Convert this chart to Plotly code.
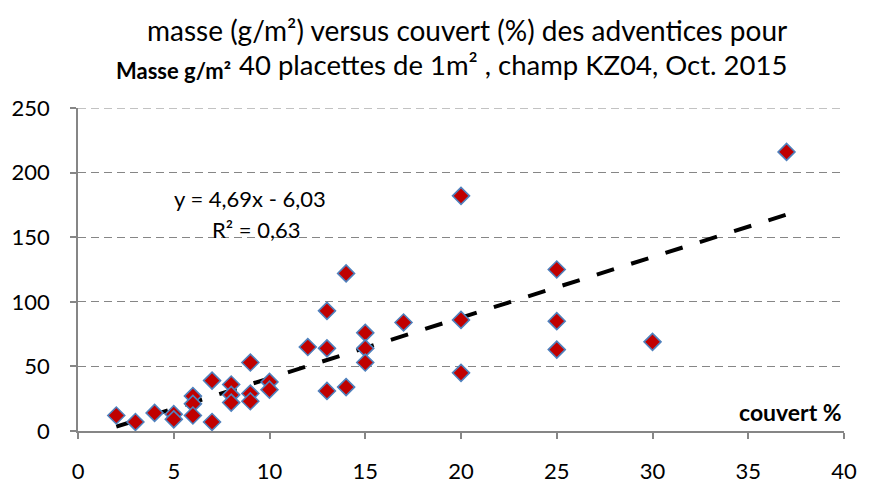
import plotly.graph_objects as go

# Weed cover (%) and weed mass (g/m²) per 1 m² plot, field KZ04, Oct. 2015
couvert = [2, 3, 4, 5, 5, 6, 6, 6, 7, 7, 8, 8, 8, 9, 9, 9, 10, 10,
           12, 13, 13, 13, 14, 14, 15, 15, 15, 17,
           20, 20, 20, 25, 25, 25, 30, 37]
masse = [12, 7, 14, 13, 9, 27, 21, 12, 39, 7, 36, 28, 22, 53, 29, 23, 38, 32,
         65, 93, 64, 31, 122, 34, 76, 64, 53, 84,
         182, 86, 45, 125, 85, 63, 69, 216]

# Linear trend reported on the chart
slope = 4.69
intercept = -6.03
r2 = 0.63

x_ticks = [0, 5, 10, 15, 20, 25, 30, 35, 40]
y_ticks = [0, 50, 100, 150, 200, 250]

FONT = "Lato"
GRID = "#868686"

trend_x = [min(couvert), max(couvert)]
trend_y = [slope * v + intercept for v in trend_x]

fig = go.Figure()
fig.add_trace(go.Scatter(
    x=trend_x, y=trend_y, mode="lines",
    line=dict(color="black", width=4, dash="18px,18px"),
    hoverinfo="skip", showlegend=False,
))
fig.add_trace(go.Scatter(
    x=couvert, y=masse, mode="markers",
    marker=dict(symbol="diamond", size=13, color="#C00000",
                line=dict(color="#4F81BD", width=1.6)),
    showlegend=False,
))

fmt = lambda v: f"{v:.2f}".replace(".", ",")
sign = "-" if intercept < 0 else "+"
eq_line1 = f"y = {fmt(slope)}x {sign} {fmt(abs(intercept))}"
eq_line2 = f"R² = {fmt(r2)}"

# top gridline sits on the range edge, so draw it as a shape
shapes = [dict(type="line", xref="paper", yref="y", x0=0, x1=1, y0=y_ticks[-1], y1=y_ticks[-1],
               line=dict(color=GRID, width=1.2, dash="8px,5px"), layer="below")]

fig.update_layout(
    width=869, height=496,
    margin=dict(l=74, r=14, t=108, b=43, pad=0),
    paper_bgcolor="white", plot_bgcolor="white",
    font=dict(family=FONT, color="black", size=22),
    xaxis=dict(
        range=[0, 40], tickvals=x_ticks, ticktext=[str(v) for v in x_ticks],
        showgrid=False, zeroline=False,
        showline=True, linecolor=GRID, linewidth=1.5,
        ticks="outside", ticklen=6, tickcolor=GRID, tickwidth=1.5,
        ticklabelstandoff=14,
        tickfont=dict(family=FONT, size=22),
    ),
    yaxis=dict(
        range=[0, 250], tickvals=y_ticks, ticktext=[str(v) for v in y_ticks],
        showgrid=True, gridcolor=GRID, gridwidth=1.2, griddash="8px,5px",
        zeroline=False,
        showline=True, linecolor=GRID, linewidth=1.5,
        ticks="outside", ticklen=6, tickcolor=GRID, tickwidth=1.5,
        ticklabelstandoff=16,
        tickfont=dict(family=FONT, size=22),
    ),
    shapes=shapes,
    annotations=[
        dict(text="masse (g/m²) versus couvert (%) des adventices pour",
             xref="paper", yref="paper", x=0.5, y=1.0, xanchor="center", yanchor="middle",
             yshift=78, xshift=6, showarrow=False, font=dict(family=FONT, size=28)),
        dict(text="40 placettes de 1m² , champ KZ04, Oct. 2015",
             xref="paper", yref="paper", x=0.5, y=1.0, xanchor="center", yanchor="middle",
             yshift=44, xshift=52, showarrow=False, font=dict(family=FONT, size=27.5)),
        dict(text="<b>Masse g/m²</b>",
             xref="paper", yref="paper", x=0, y=1.0, xanchor="left", yanchor="middle",
             xshift=36, yshift=38, showarrow=False, font=dict(family=FONT, size=22)),
        dict(text="<b>couvert %</b>",
             xref="paper", yref="paper", x=1.0, y=0, xanchor="right", yanchor="middle",
             yshift=19, showarrow=False, font=dict(family=FONT, size=23)),
        dict(text=eq_line1, xref="x", yref="y", x=8.96, y=180,
             xanchor="center", yanchor="middle", showarrow=False,
             font=dict(family=FONT, size=22)),
        dict(text=eq_line2, xref="x", yref="y", x=9.27, y=156,
             xanchor="center", yanchor="middle", showarrow=False,
             font=dict(family=FONT, size=22)),
    ],
)

fig.write_html("out.html")
